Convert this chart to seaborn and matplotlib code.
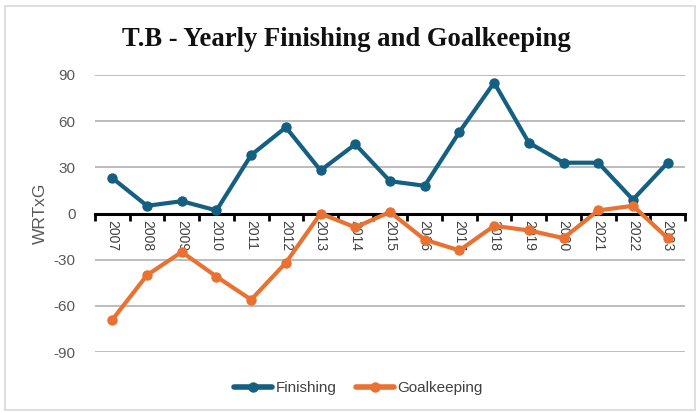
import matplotlib
matplotlib.use("Agg")
import matplotlib.pyplot as plt
import seaborn as sns
import pandas as pd
from matplotlib.patches import Rectangle
from matplotlib.ticker import FixedLocator

years = ["2007", "2008", "2009", "2010", "2011", "2012", "2013", "2014", "2015",
         "2016", "2017", "2018", "2019", "2020", "2021", "2022", "2023"]
finishing = [23, 5, 8, 2, 38, 56, 28, 45, 21, 18, 53, 85, 46, 33, 33, 9, 33]
goalkeeping = [-69, -40, -25, -41, -56, -32, 0, -9, 1, -17, -24, -8, -11, -16, 2, 5, -16]
yticks = [-90, -60, -30, 0, 30, 60, 90]

sns.set_theme(style="white")
plt.rcParams['font.family'] = ['Liberation Sans', 'DejaVu Sans']

df = pd.DataFrame({
    "pos": list(range(len(years))) * 2,
    "value": finishing + goalkeeping,
    "series": ["Finishing"] * len(years) + ["Goalkeeping"] * len(years),
})

fig = plt.figure(figsize=(6.96, 4.13), dpi=100)
ax = fig.add_axes([95 / 696, 1 - 352 / 413, 590 / 696, 277 / 413])

palette = {"Finishing": "#156082", "Goalkeeping": "#E97132"}
sns.lineplot(data=df, x="pos", y="value", hue="series", palette=palette,
             marker="o", markersize=7.5, markeredgewidth=0, linewidth=3,
             ax=ax, legend=True)

ax.set_xlim(-0.5, len(years) - 0.5)
ax.set_ylim(-90, 90)
ax.set_yticks(yticks)
ax.set_yticklabels([str(v) for v in yticks], color="#595959", fontsize=11)
for v in yticks:
    if v != 0:
        ax.axhline(v, color="#b0b0b0", linewidth=1.2, zorder=0)

for s in ["top", "right", "left"]:
    ax.spines[s].set_visible(False)
ax.spines["bottom"].set_position(("data", 0))
ax.spines["bottom"].set_color("black")
ax.spines["bottom"].set_linewidth(2.2)
ax.spines["bottom"].set_zorder(1)

ax.set_xticks(range(len(years)))
ax.set_xticklabels(years, rotation=-90, fontsize=10, color="#404040")
ax.tick_params(axis="x", which="major", length=0, pad=5)
ax.xaxis.set_minor_locator(FixedLocator([i - 0.5 for i in range(len(years) + 1)]))
ax.tick_params(axis="x", which="minor", length=5, width=2, color="black", direction="out", bottom=True)
ax.tick_params(axis="y", length=0, pad=14)

ax.set_xlabel("")
ax.set_ylabel("WRTxG", color="#595959", fontsize=12.5)
ax.yaxis.set_label_coords(-0.08, 0.5)

handles, labels = ax.get_legend_handles_labels()
ax.get_legend().remove()
for h in handles:
    h.set_linewidth(4)
fig.legend(handles, labels, loc="center", bbox_to_anchor=(0.515, 1 - 388 / 413), ncol=2,
           frameon=False, prop={"size": 11},
           handlelength=2.5, columnspacing=1.3, handletextpad=0.2,
           labelcolor="#404040")

fig.text(0.497, 1 - 40 / 413, "T.B - Yearly Finishing and Goalkeeping", ha="center", va="center",
         fontsize=19.2, fontweight="bold", family=["Liberation Serif", "DejaVu Serif"], color="#111111")

fig.patches.append(Rectangle((5 / 696, 3 / 413), 690 / 696, 404 / 413, transform=fig.transFigure,
                             fill=False, edgecolor="#d9d9d9", linewidth=1.2))

fig.savefig("out.png", dpi=100)
